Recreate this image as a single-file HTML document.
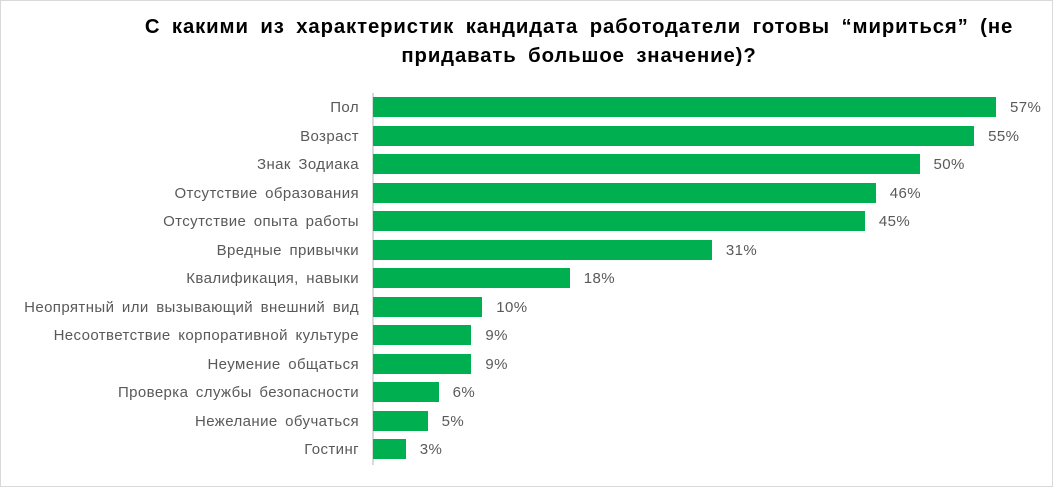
<!DOCTYPE html>
<html><head><meta charset="utf-8"><style>
body{margin:0;background:#fff;}
#c{position:relative;width:1051px;height:485px;border:1px solid #d9d9d9;font-family:"Liberation Sans",Arial,sans-serif;overflow:hidden;}
.t{position:absolute;left:0;width:1156px;text-align:center;font-weight:bold;font-size:20.3px;letter-spacing:0.9px;word-spacing:5px;color:#000;line-height:29px;top:12px;white-space:nowrap;}
.l{position:absolute;right:693px;font-size:15px;letter-spacing:0.4px;word-spacing:3px;color:#595959;white-space:nowrap;line-height:20px;}
.b{position:absolute;left:372px;height:20px;background:#00B050;}
.v{position:absolute;font-size:15px;letter-spacing:0.4px;color:#595959;line-height:20px;}
.ax{position:absolute;left:371px;top:92px;width:2px;height:372px;background:#d9d9d9;}
</style></head><body><div id="c">
<div class="t">С какими из характеристик кандидата работодатели готовы “мириться” (не<br>придавать большое значение)?</div>
<div class="ax"></div>
<div id="bars"></div>
</div>
<script>
var d=[["Пол",57],["Возраст",55],["Знак Зодиака",50],["Отсутствие образования",46],["Отсутствие опыта работы",45],["Вредные привычки",31],["Квалификация, навыки",18],["Неопрятный или вызывающий внешний вид",10],["Несоответствие корпоративной культуре",9],["Неумение общаться",9],["Проверка службы безопасности",6],["Нежелание обучаться",5],["Гостинг",3]];
var h="";d.forEach(function(r,i){var y=96+i*28.5;var w=r[1]*10.93;
h+='<div class="l" style="top:'+(y+1)+'px">'+r[0]+'</div><div class="b" style="top:'+y+'px;width:'+w+'px"></div><div class="v" style="top:'+(y+1)+'px;left:'+(372+w+14)+'px">'+r[1]+'%</div>';});
document.getElementById("bars").innerHTML=h;
</script></body></html>
